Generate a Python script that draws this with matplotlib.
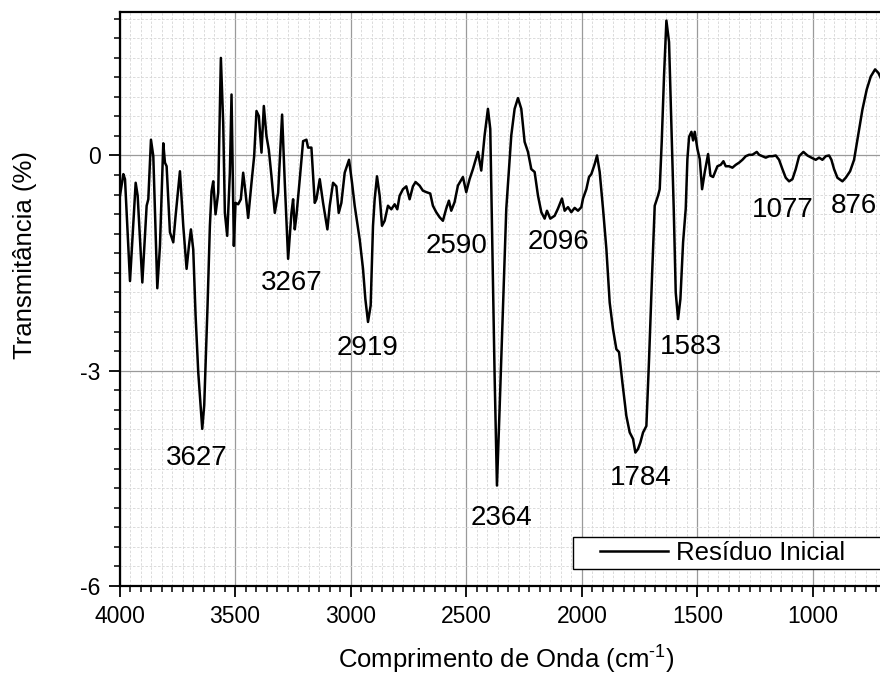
import numpy as np
import matplotlib
matplotlib.use("Agg")
import matplotlib.pyplot as plt
from matplotlib.ticker import MultipleLocator, FixedLocator
from matplotlib.legend_handler import HandlerLine2D

plt.rcParams['font.family'] = ['Liberation Sans', 'DejaVu Sans']
plt.rcParams['mathtext.fontset'] = 'custom'
plt.rcParams['mathtext.rm'] = 'Liberation Sans'
plt.rcParams['mathtext.it'] = 'Liberation Sans:italic'
plt.rcParams['mathtext.bf'] = 'Liberation Sans:bold'
plt.rcParams['axes.unicode_minus'] = False

# ---- data ----
wavenumber = [
    3998, 3983.4, 3976.2, 3954.6, 3930.1, 3921.5, 3901.3, 3882.6, 3875.4, 3863.9,
    3853.8, 3836.5, 3825.0, 3810.6, 3803.4, 3796.2, 3781.8, 3767.4, 3757.3, 3738.6,
    3724.2, 3709.8, 3699.7, 3691.1, 3681.0, 3670.9, 3659.4, 3642.1, 3633.5, 3619.1,
    3609.0, 3601.8, 3594.6, 3584.5, 3573.0, 3561.5, 3551.4, 3544.2, 3534.1, 3522.6,
    3515.4, 3505.3, 3498.1, 3486.6, 3475.1, 3465.0, 3454.9, 3443.4, 3429.0, 3417.5,
    3407.4, 3397.3, 3385.8, 3375.7, 3364.2, 3354.1, 3342.6, 3328.2, 3313.8, 3296.6,
    3285.0, 3270.6, 3256.2, 3249.0, 3241.8, 3234.6, 3220.2, 3205.8, 3191.4, 3184.2,
    3169.8, 3155.4, 3148.2, 3133.8, 3119.4, 3100.7, 3090.6, 3076.2, 3061.8, 3051.7,
    3040.2, 3025.8, 3007.1, 2994.1, 2982.6, 2961.0, 2946.6, 2936.5, 2925.0, 2913.5,
    2903.4, 2896.2, 2886.1, 2874.6, 2864.5, 2853.0, 2838.6, 2824.2, 2809.8, 2798.3,
    2788.2, 2773.8, 2759.4, 2745.0, 2730.6,
    2719.3, 2702.0, 2687.6, 2673.2, 2655.8, 2644.3, 2629.9, 2615.4, 2601.0, 2586.6,
    2575.0, 2564.9, 2550.5, 2536.1, 2514.4, 2500.0, 2485.6, 2471.1, 2449.5, 2435.1,
    2420.6, 2406.2, 2396.1, 2387.4, 2377.3, 2367.2, 2355.7, 2341.3, 2326.8, 2305.2,
    2290.8, 2276.3, 2261.9, 2247.5, 2233.0, 2218.6, 2204.2, 2189.7, 2175.3, 2160.9,
    2150.8, 2136.4, 2117.6, 2103.2, 2085.9, 2074.3, 2059.9, 2045.5, 2031.0, 2016.6,
    2002.2, 1994.9, 1980.5, 1969.0, 1958.9, 1944.4, 1934.3, 1922.8, 1908.4, 1893.9,
    1879.5, 1865.1, 1850.6, 1839.1, 1824.7, 1807.4, 1792.9, 1778.5, 1768.4, 1756.9,
    1746.8, 1735.2, 1720.8, 1709.2, 1696.2, 1684.7, 1670.3, 1663.1, 1654.4, 1644.3,
    1634.2, 1622.7, 1612.6, 1602.5, 1593.8, 1583.7, 1573.6, 1562.0, 1550.5, 1543.3,
    1536.0, 1525.9, 1518.7, 1511.5, 1500.0, 1489.9, 1479.8, 1468.2, 1453.8, 1443.7,
    1432.2, 1413.5, 1399.1, 1387.5, 1377.4, 1363.0, 1348.6, 1334.2, 1319.8, 1305.3,
    1290.9, 1276.5, 1262.1, 1243.3, 1233.2, 1218.8, 1204.4, 1190.0, 1175.6, 1161.1,
    1146.7, 1132.3, 1117.9, 1103.5, 1089.0, 1074.6, 1060.2, 1041.4, 1024.1, 1006.8,
    988.1, 973.7, 959.3, 944.8, 930.4, 920.3, 908.8, 894.4, 872.7, 858.3,
    839.6, 822.3, 807.8, 786.2, 767.5, 750.2, 731.4, 717.0, 706.9, 695.0,
]
transmittance = [
    -0.56, -0.26, -0.33, -1.75, -0.38, -0.56, -1.77, -0.70, -0.61, 0.22,
    -0.01, -1.85, -1.26, 0.17, -0.10, -0.15, -1.07, -1.21, -0.84, -0.22,
    -0.98, -1.58, -1.26, -1.03, -1.31, -2.23, -3.02, -3.81, -3.48, -2.09,
    -0.98, -0.50, -0.36, -0.82, -0.52, 1.36, 0.45, -0.80, -1.12, -0.24,
    0.85, -1.26, -0.66, -0.68, -0.61, -0.24, -0.52, -0.87, -0.38, -0.01,
    0.62, 0.55, 0.04, 0.69, 0.27, 0.08, -0.29, -0.80, -0.52, 0.57,
    -0.38, -1.44, -0.80, -0.61, -1.03, -0.84, -0.33, 0.20, 0.22, 0.11,
    0.11, -0.66, -0.61, -0.33, -0.66, -1.03, -0.70, -0.38, -0.43, -0.80,
    -0.66, -0.24, -0.06, -0.38, -0.70, -1.17, -1.58, -2.00, -2.32, -2.09,
    -0.98, -0.61, -0.29, -0.56, -0.98, -0.91, -0.70, -0.75, -0.68, -0.75,
    -0.56, -0.47, -0.43, -0.61, -0.43,
    -0.37, -0.42, -0.49, -0.51, -0.53, -0.70, -0.79, -0.86, -0.91, -0.74,
    -0.63, -0.77, -0.65, -0.42, -0.30, -0.51, -0.33, -0.19, 0.05, -0.21,
    0.28, 0.65, 0.37, -1.21, -3.07, -4.60, -3.53, -2.14, -0.74, 0.28,
    0.65, 0.80, 0.65, 0.19, 0.05, -0.19, -0.23, -0.56, -0.79, -0.88,
    -0.77, -0.88, -0.84, -0.74, -0.60, -0.77, -0.72, -0.79, -0.73, -0.77,
    -0.72, -0.60, -0.47, -0.30, -0.26, -0.12, 0.00, -0.23, -0.74, -1.30,
    -2.05, -2.42, -2.70, -2.74, -3.16, -3.63, -3.86, -3.95, -4.14, -4.09,
    -4.00, -3.86, -3.77, -2.84, -1.67, -0.70, -0.56, -0.47, 0.19, 1.12,
    1.88, 1.58, 0.42, -0.74, -1.91, -2.28, -2.00, -1.21, -0.74, -0.05,
    0.26, 0.33, 0.21, 0.33, 0.09, -0.05, -0.47, -0.23, 0.02, -0.28,
    -0.30, -0.15, -0.13, -0.08, -0.15, -0.15, -0.17, -0.13, -0.10, -0.06,
    -0.01, 0.01, 0.01, 0.05, 0.01, -0.01, -0.03, -0.01, -0.01, 0.00,
    -0.06, -0.19, -0.31, -0.36, -0.33, -0.19, -0.01, 0.05, 0.00, -0.03,
    -0.06, -0.03, -0.06, -0.01, 0.00, -0.06, -0.19, -0.31, -0.36, -0.31,
    -0.22, -0.06, 0.22, 0.64, 0.92, 1.10, 1.20, 1.15, 1.08, 1.00,
]

peak_labels = ["3627", "3267", "2919", "2590", "2096", "2364", "1784", "1583", "1077", "876"]
label_x = [3667, 3256, 2925, 2542, 2103, 2347, 1743, 1527, 1133, 824]
label_y = [-4.31, -1.87, -2.78, -1.36, -1.30, -5.15, -4.59, -2.76, -0.86, -0.80]

x_ticks = [4000, 3500, 3000, 2500, 2000, 1500, 1000]
y_ticks = [-6, -3, 0]
series_name = "Resíduo Inicial"


class ShiftedLine(HandlerLine2D):
    def get_xdata(self, legend, xdescent, ydescent, width, height, fontsize):
        x0 = -xdescent + width * 0.25
        x1 = -xdescent + width
        xd = np.array([x0, x1])
        return xd, xd


fig = plt.figure(figsize=(8.8, 6.81), dpi=100)
ax = fig.add_axes([0.1358, 0.1395, 0.880, 0.8429])

ax.plot(wavenumber, transmittance, color='black', lw=1.8, label=series_name, zorder=3,
        solid_joinstyle='round')

ax.set_xlim(4000, 650)
ax.set_ylim(-6, 2)

ax.xaxis.set_major_locator(FixedLocator(x_ticks))
ax.yaxis.set_major_locator(FixedLocator(y_ticks))
ax.xaxis.set_minor_locator(MultipleLocator(500 / 11))
ax.yaxis.set_minor_locator(MultipleLocator(3 / 11))

ax.set_axisbelow(True)
ax.grid(which='major', color='#9a9a9a', lw=0.9, ls='-')
ax.grid(which='minor', color='#d6d6d6', lw=0.6, ls=(0, (3, 2)))

for s in ['left', 'bottom', 'top', 'right']:
    ax.spines[s].set_linewidth(1.6)
    ax.spines[s].set_color('black')

ax.tick_params(which='major', direction='out', length=8, width=1.3, labelsize=16.5,
               top=False, right=False, pad=5.5)
ax.tick_params(which='minor', direction='out', length=4.5, width=1.1,
               top=False, right=False)

ax.set_xlabel("Comprimento de Onda (cm$^{\\text{-1}}$)", fontsize=18.5)
ax.set_ylabel("Transmitância (%)", fontsize=18.5)
ax.xaxis.set_label_coords(0.5, -0.100)
ax.yaxis.set_label_coords(-0.1065, 0.577)

for t, xv, yv in zip(peak_labels, label_x, label_y):
    ax.text(xv, yv, t, fontsize=20, ha='center', va='baseline', zorder=4)

leg = ax.legend(loc='lower left', bbox_to_anchor=(0.5856, 0.0296, 0.42, 0.05),
                mode='expand', borderaxespad=0, fontsize=18.5, frameon=True,
                fancybox=False, edgecolor='black', framealpha=1, borderpad=0.15,
                handlelength=3.54, handletextpad=0.3,
                handler_map={matplotlib.lines.Line2D: ShiftedLine()})
leg.get_frame().set_linewidth(1.0)

fig.savefig("out.png", dpi=100)
